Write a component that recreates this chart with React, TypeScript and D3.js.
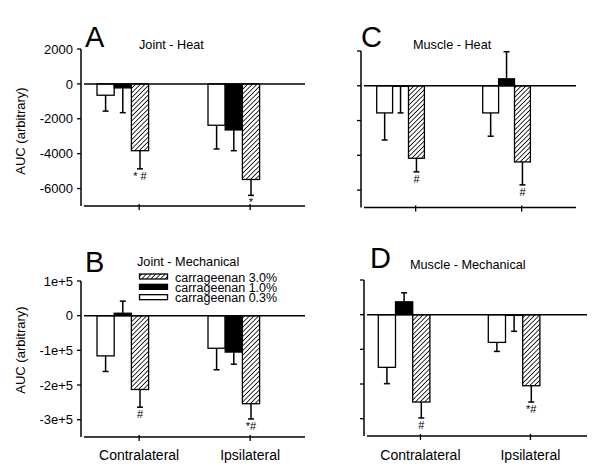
import { useEffect, useRef } from 'react';
import * as d3 from 'd3';

// categories and series
const groups = ['Contralateral', 'Ipsilateral'];
const doses = ['carrageenan 0.3%', 'carrageenan 1.0%', 'carrageenan 3.0%'];
const legendOrder = ['carrageenan 3.0%', 'carrageenan 1.0%', 'carrageenan 0.3%'];

// values are [group][dose]
const jointHeatMeans = [[-650, -230, -3830], [-2370, -2640, -5480]];
const jointHeatErrors = [[910, 1420, 1040], [1360, 1190, 910]];
const jointHeatMarks = [['', '', '* #'], ['', '', '*']];

const muscleHeatMeans = [[-1560, -30, -4170], [-1560, 400, -4380]];
const muscleHeatErrors = [[1560, 1530, 780], [1340, 1560, 1320]];
const muscleHeatMarks = [['', '', '#'], ['', '', '#']];

const jointMechMeans = [[-116000, 7000, -213000], [-94000, -105000, -254000]];
const jointMechErrors = [[45000, 35000, 51000], [62000, 35000, 44000]];
const jointMechMarks = [['', '', '#'], ['', '', '*#']];

const muscleMechMeans = [[-152000, 37000, -252000], [-80000, -2000, -205000]];
const muscleMechErrors = [[47000, 26000, 46000], [26000, 46000, 47000]];
const muscleMechMarks = [['', '', '#'], ['', '', '*#']];

const heatTicks = [2000, 0, -2000, -4000, -6000];
const heatTickLabels = ['2000', '0', '-2000', '-4000', '-6000'];
const mechTicks = [100000, 0, -100000, -200000, -300000];
const mechTickLabels = ['1e+5', '0', '-1e+5', '-2e+5', '-3e+5'];

const FONT = 'Arial, "Liberation Sans", Helvetica, sans-serif';

interface PanelDef {
  letter: string;
  title: string;
  means: number[][];
  errors: number[][];
  marks: string[][];
  domain: [number, number];
  ticks: number[];
  tickLabels: string[] | null;
  axisX: number;
  lineEnd: number;
  y0: number;
  y1: number;
  groupStart: [number, number];
  bw: number;
  letterPos: [number, number];
  titlePos: [number, number];
  yLabelY: number | null;
  showCats: boolean;
}

const panels: PanelDef[] = [
  {
    letter: 'A', title: 'Joint - Heat',
    means: jointHeatMeans, errors: jointHeatErrors, marks: jointHeatMarks,
    domain: [-7000, 2000], ticks: heatTicks, tickLabels: heatTickLabels,
    axisX: 81, lineEnd: 305, y0: 49, y1: 206,
    groupStart: [97, 208], bw: 17.2,
    letterPos: [85, 46.5], titlePos: [139, 48.5], yLabelY: 131, showCats: false,
  },
  {
    letter: 'B', title: 'Joint - Mechanical',
    means: jointMechMeans, errors: jointMechErrors, marks: jointMechMarks,
    domain: [-350000, 100000], ticks: mechTicks, tickLabels: mechTickLabels,
    axisX: 81, lineEnd: 305, y0: 281, y1: 437,
    groupStart: [97, 208], bw: 17.2,
    letterPos: [85, 272], titlePos: [137, 266], yLabelY: 350, showCats: true,
  },
  {
    letter: 'C', title: 'Muscle - Heat',
    means: muscleHeatMeans, errors: muscleHeatErrors, marks: muscleHeatMarks,
    domain: [-7000, 2000], ticks: heatTicks, tickLabels: null,
    axisX: 361, lineEnd: 576, y0: 51, y1: 207.5,
    groupStart: [376.7, 482.7], bw: 15.9,
    letterPos: [361, 46.5], titlePos: [413, 49], yLabelY: null, showCats: false,
  },
  {
    letter: 'D', title: 'Muscle - Mechanical',
    means: muscleMechMeans, errors: muscleMechErrors, marks: muscleMechMarks,
    domain: [-350000, 100000], ticks: mechTicks, tickLabels: null,
    axisX: 364, lineEnd: 587, y0: 280, y1: 436,
    groupStart: [378.3, 488.3], bw: 17.2,
    letterPos: [370, 268], titlePos: [410, 269], yLabelY: null, showCats: true,
  },
];

const fills = ['#ffffff', '#000000', 'url(#hatch)'];

export default function App() {
  const svgRef = useRef<SVGSVGElement>(null);

  useEffect(() => {
    if (!svgRef.current) return;
    const svg = d3.select(svgRef.current);
    svg.selectAll('*').remove();

    svg.append('rect').attr('width', 600).attr('height', 471).attr('fill', '#fff');

    // hatch pattern for 3.0%
    const period = 3.3;
    const defs = svg.append('defs');
    defs.append('pattern')
      .attr('id', 'hatch')
      .attr('width', period)
      .attr('height', period)
      .attr('patternUnits', 'userSpaceOnUse')
      .attr('patternTransform', 'rotate(45)')
      .call(p => {
        p.append('rect').attr('width', period).attr('height', period).attr('fill', '#fff');
        p.append('line')
          .attr('x1', 0).attr('y1', -1).attr('x2', 0).attr('y2', period + 1)
          .attr('stroke', '#000').attr('stroke-width', 1.6);
      });

    panels.forEach(pd => {
      const g = svg.append('g');
      const y = d3.scaleLinear().domain(pd.domain).range([pd.y1, pd.y0]);
      const gx = d3.scalePoint<string>().domain(groups).range(pd.groupStart);
      const bx = d3.scaleBand<string>().domain(doses).range([0, pd.bw * 3]);

      // y axis
      g.append('line')
        .attr('x1', pd.axisX).attr('x2', pd.axisX)
        .attr('y1', pd.y0).attr('y2', pd.y1)
        .attr('stroke', '#000').attr('stroke-width', 1.5);
      g.selectAll('.ytick')
        .data(pd.ticks)
        .enter()
        .append('line')
        .attr('x1', pd.axisX - 4).attr('x2', pd.axisX)
        .attr('y1', d => y(d)).attr('y2', d => y(d))
        .attr('stroke', '#000').attr('stroke-width', 1.3);
      if (pd.tickLabels) {
        g.selectAll('.ylab')
          .data(pd.ticks)
          .enter()
          .append('text')
          .attr('x', pd.axisX - 8)
          .attr('y', d => y(d))
          .attr('dy', '0.36em')
          .attr('text-anchor', 'end')
          .attr('font-family', FONT)
          .attr('font-size', 13)
          .text((_, i) => pd.tickLabels![i]);
      }
      if (pd.yLabelY !== null) {
        g.append('text')
          .attr('transform', `translate(25,${pd.yLabelY}) rotate(-90)`)
          .attr('text-anchor', 'middle')
          .attr('font-family', FONT)
          .attr('font-size', 13)
          .text('AUC (arbitrary)');
      }

      // bars
      groups.forEach((grp, gi) => {
        doses.forEach((dose, di) => {
          const v = pd.means[gi][di];
          const e = pd.errors[gi][di];
          const x0 = gx(grp)! + bx(dose)!;
          const cx = x0 + bx.bandwidth() / 2;
          g.append('rect')
            .attr('x', x0)
            .attr('y', Math.min(y(v), y(0)))
            .attr('width', bx.bandwidth())
            .attr('height', Math.abs(y(v) - y(0)))
            .attr('fill', fills[di])
            .attr('stroke', '#000')
            .attr('stroke-width', 1.3);
          const end = v < 0 ? v - e : v + e;
          g.append('line')
            .attr('x1', cx).attr('x2', cx)
            .attr('y1', y(v)).attr('y2', y(end))
            .attr('stroke', '#000').attr('stroke-width', 1.5);
          g.append('line')
            .attr('x1', cx - 3).attr('x2', cx + 3)
            .attr('y1', y(end)).attr('y2', y(end))
            .attr('stroke', '#000').attr('stroke-width', 1.5);
          const mark = pd.marks[gi][di];
          if (mark) {
            g.append('text')
              .attr('x', cx)
              .attr('y', y(end) + 11)
              .attr('text-anchor', 'middle')
              .attr('font-family', FONT)
              .attr('font-size', 11)
              .text(mark);
          }
        });
      });

      // zero line and bottom axis
      [0, pd.domain[0]].forEach(v => {
        g.append('line')
          .attr('x1', pd.axisX + 3).attr('x2', pd.lineEnd)
          .attr('y1', y(v)).attr('y2', y(v))
          .attr('stroke', '#000').attr('stroke-width', 1.5);
      });

      // category ticks
      groups.forEach(grp => {
        const tx = gx(grp)! + pd.bw * 2.45;
        g.append('line')
          .attr('x1', tx).attr('x2', tx)
          .attr('y1', pd.y1 - 2).attr('y2', pd.y1 + 4)
          .attr('stroke', '#000').attr('stroke-width', 1.3);
        if (pd.showCats) {
          g.append('text')
            .attr('x', tx)
            .attr('y', 460)
            .attr('text-anchor', 'middle')
            .attr('font-family', FONT)
            .attr('font-size', 14)
            .text(grp);
        }
      });

      // panel letter and title
      g.append('text')
        .attr('x', pd.letterPos[0]).attr('y', pd.letterPos[1])
        .attr('font-family', FONT).attr('font-size', 29)
        .text(pd.letter);
      g.append('text')
        .attr('x', pd.titlePos[0]).attr('y', pd.titlePos[1])
        .attr('font-family', FONT).attr('font-size', 12.7)
        .text(pd.title);
    });

    // legend (inside panel B), rows packed tightly as in the original
    const legend = svg.append('g');
    const ly = d3.scaleBand<string>().domain(legendOrder).range([274, 305]);
    legendOrder.forEach((name, i) => {
      const di = doses.indexOf(name);
      const yy = ly(name)!;
      legend.append('rect')
        .attr('x', 139.5).attr('y', yy)
        .attr('width', 28).attr('height', 5)
        .attr('fill', fills[di])
        .attr('stroke', '#000').attr('stroke-width', 1.3);
      legend.append('text')
        .attr('x', 175).attr('y', yy + 7.5)
        .attr('font-family', FONT).attr('font-size', 12.5)
        .text(legendOrder[i]);
    });
  }, []);

  return (
    <svg
      ref={svgRef}
      width={600}
      height={471}
      style={{ position: 'absolute', left: 0, top: 0 }}
    />
  );
}
